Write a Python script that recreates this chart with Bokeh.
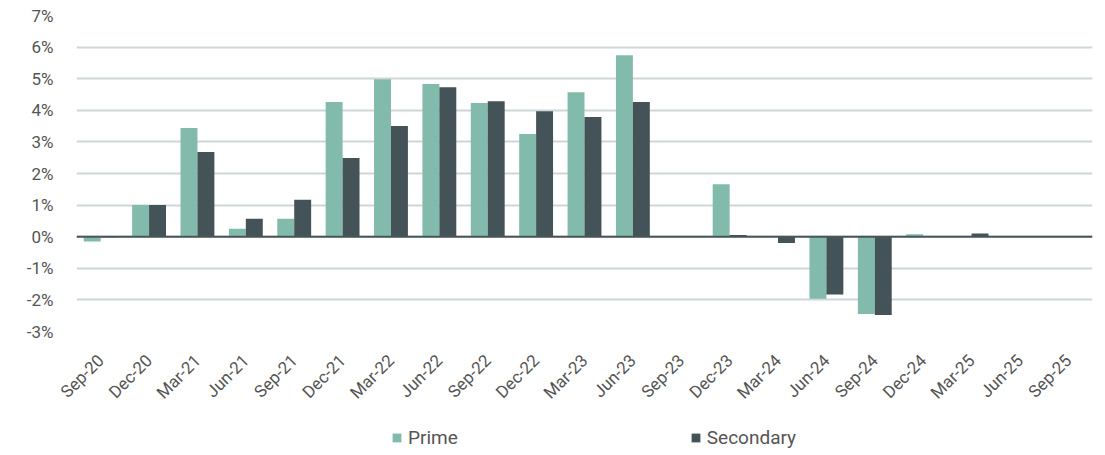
from math import pi

from bokeh.embed import file_html
from bokeh.resources import INLINE
from bokeh.layouts import column
from bokeh.plotting import figure
from bokeh.models import (ColumnDataSource, FactorRange, Range1d, FixedTicker,
                          PrintfTickFormatter, Span, Legend, LegendItem)
from bokeh.transform import dodge

# Quarterly growth, %
quarters = ["Sep-20", "Dec-20", "Mar-21", "Jun-21", "Sep-21", "Dec-21", "Mar-22",
            "Jun-22", "Sep-22", "Dec-22", "Mar-23", "Jun-23", "Sep-23", "Dec-23",
            "Mar-24", "Jun-24", "Sep-24", "Dec-24", "Mar-25", "Jun-25", "Sep-25"]
prime = [-0.15, 1.0, 3.44, 0.25, 0.57, 4.26, 4.98, 4.83, 4.23, 3.25, 4.57, 5.74,
         0.0, 1.66, 0.0, -1.96, -2.45, 0.08, 0.0, 0.0, 0.0]
secondary = [-0.02, 1.0, 2.68, 0.57, 1.17, 2.49, 3.5, 4.73, 4.29, 3.97, 3.79, 4.26,
             0.0, 0.05, -0.2, -1.83, -2.48, 0.0, 0.1, 0.0, 0.0]
y_ticks = [-3, -2, -1, 0, 1, 2, 3, 4, 5, 6, 7]

PRIME_COLOR = "#82bbab"
SECONDARY_COLOR = "#435357"
TEXT_COLOR = "#555555"
FONT = "Roboto"

source = ColumnDataSource(dict(q=quarters, prime=prime, secondary=secondary))

p = figure(width=1105, height=412, output_backend="svg", toolbar_location=None,
           x_range=FactorRange(*quarters, range_padding=0),
           y_range=Range1d(-3, 7),
           min_border_left=76, min_border_right=13, min_border_top=15,
           min_border_bottom=76)
p.outline_line_color = None
p.background_fill_color = "white"
p.border_fill_color = "white"

bw = 0.35
p.vbar(x=dodge("q", -bw / 2, range=p.x_range), top="prime", bottom=0,
       width=bw, source=source, fill_color=PRIME_COLOR, line_color=None)
p.vbar(x=dodge("q", bw / 2, range=p.x_range), top="secondary", bottom=0,
       width=bw, source=source, fill_color=SECONDARY_COLOR, line_color=None)

# zero line
p.add_layout(Span(location=0, dimension="width", line_color="#4a5558", line_width=2))

# grid
p.xgrid.grid_line_color = None
p.ygrid.grid_line_color = "#cfd6d8"
p.ygrid.grid_line_width = 2
p.ygrid.ticker = FixedTicker(ticks=y_ticks)

# y axis
p.yaxis.ticker = FixedTicker(ticks=y_ticks)
p.yaxis.formatter = PrintfTickFormatter(format="%d%%")
p.yaxis.axis_line_color = None
p.yaxis.major_tick_line_color = None
p.yaxis.minor_tick_line_color = None
p.yaxis.major_label_standoff = 17
p.yaxis.major_label_text_font = FONT
p.yaxis.major_label_text_font_size = "17px"
p.yaxis.major_label_text_color = TEXT_COLOR

# x axis
p.xaxis.axis_line_color = None
p.xaxis.major_tick_line_color = None
p.xaxis.major_label_orientation = pi / 4
p.xaxis.major_label_standoff = 20
p.xaxis.major_label_text_font = FONT
p.xaxis.major_label_text_font_size = "17px"
p.xaxis.major_label_text_color = TEXT_COLOR

# legend strip under the chart
leg = figure(width=1105, height=43, output_backend="svg", toolbar_location=None,
             x_range=FactorRange(*quarters), y_range=Range1d(0, 1),
             min_border=0, x_axis_location=None, y_axis_location=None)
leg.outline_line_color = None
leg.grid.grid_line_color = None
leg.border_fill_color = "white"
lp = leg.vbar(x="q", top="prime", width=bw, source=source,
              fill_color=PRIME_COLOR, line_color=None, visible=False)
ls = leg.vbar(x="q", top="secondary", width=bw, source=source,
              fill_color=SECONDARY_COLOR, line_color=None, visible=False)
legend = Legend(items=[LegendItem(label="Prime", renderers=[lp]),
                       LegendItem(label="Secondary", renderers=[ls])],
                orientation="horizontal", location=(315, 6),
                glyph_width=11, glyph_height=11, label_standoff=6, spacing=232,
                label_text_font=FONT, label_text_font_size="19px",
                label_text_color=TEXT_COLOR, border_line_color=None,
                background_fill_alpha=0, padding=2, margin=0)
leg.add_layout(legend)

open("out.html", "w").write(file_html(column(p, leg, spacing=0), INLINE))
